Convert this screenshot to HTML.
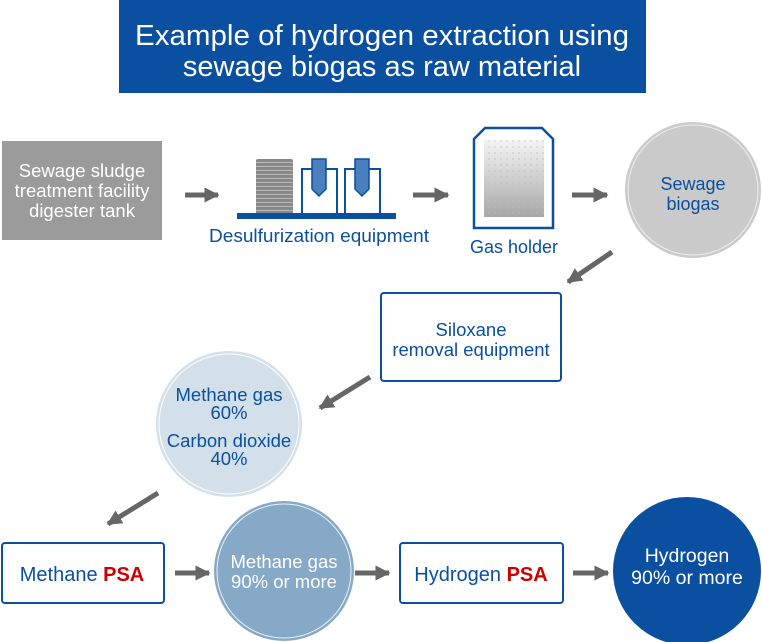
<!DOCTYPE html>
<html><head><meta charset="utf-8"><style>
html,body{margin:0;padding:0;background:#fff;width:762px;height:642px;overflow:hidden}
svg text{font-family:"Liberation Sans","DejaVu Sans",sans-serif}
</style></head><body>
<svg width="762" height="642" viewBox="0 0 762 642" xmlns="http://www.w3.org/2000/svg">
<defs>
<marker id="ah" viewBox="0 0 10 10" refX="9" refY="5" markerWidth="3" markerHeight="3" orient="auto"><path d="M0,0 L10,5 L0,10 z" fill="#666"/></marker>
<linearGradient id="gh" x1="0" y1="0" x2="0" y2="1"><stop offset="0" stop-color="#f4f4f4"/><stop offset="1" stop-color="#a8a8a8"/></linearGradient>
<pattern id="dots" width="6" height="6" patternUnits="userSpaceOnUse"><circle cx="3" cy="3" r="0.9" fill="#bbb"/></pattern>
<pattern id="stripes" width="4" height="4" patternUnits="userSpaceOnUse"><rect width="36" height="4" fill="#888"/><rect y="2" width="36" height="1" fill="#bbb"/></pattern>
</defs>
<rect x="119" y="0" width="527" height="93" fill="#0a4fa0"/>
<text x="382" y="45" font-size="29" fill="#fff" text-anchor="middle" textLength="494" lengthAdjust="spacingAndGlyphs">Example of hydrogen extraction using</text>
<text x="382" y="76" font-size="29" fill="#fff" text-anchor="middle">sewage biogas as raw material</text>

<rect x="2" y="141" width="160" height="99" fill="#9b9b9b"/>
<g font-size="18.5" fill="#fff" text-anchor="middle">
<text x="82" y="177">Sewage sludge</text><text x="82" y="197">treatment facility</text><text x="82" y="217">digester tank</text></g>

<g stroke="#666" stroke-width="5" fill="none" marker-end="url(#ah)">
<line x1="185" y1="195" x2="218" y2="195"/>
<line x1="413" y1="195" x2="448" y2="195"/>
<line x1="572" y1="195" x2="607" y2="195"/>
<line x1="612" y1="252" x2="568" y2="282"/>
<line x1="370" y1="377" x2="320" y2="408"/>
<line x1="158" y1="493" x2="108" y2="524"/>
<line x1="175" y1="573" x2="209" y2="573"/>
<line x1="355" y1="573" x2="389" y2="573"/>
<line x1="573" y1="573" x2="608" y2="573"/>
</g>

<rect x="256" y="159" width="37" height="55" rx="2" fill="url(#stripes)"/>
<rect x="302" y="169" width="35" height="45" fill="#fff" stroke="#0a4fa0" stroke-width="2"/>
<rect x="345" y="169" width="35" height="45" fill="#fff" stroke="#0a4fa0" stroke-width="2"/>
<path d="M312,159 h14 v30 l-7,7 l-7,-7 z" fill="#4a7fc0" stroke="#0a4fa0" stroke-width="1.5"/>
<path d="M355,159 h14 v30 l-7,7 l-7,-7 z" fill="#4a7fc0" stroke="#0a4fa0" stroke-width="1.5"/>
<rect x="237" y="213" width="159" height="6" fill="#0a4fa0"/>
<text x="319" y="242" font-size="18" fill="#0a4fa0" text-anchor="middle" textLength="220" lengthAdjust="spacingAndGlyphs">Desulfurization equipment</text>

<path d="M474,139 L485,128 L542,128 L553,139 L553,228 L474,228 Z" fill="#fff" stroke="#0a4fa0" stroke-width="2.5"/>
<rect x="484" y="140" width="60" height="77" fill="url(#gh)"/>
<rect x="484" y="140" width="60" height="77" fill="url(#dots)" opacity="0.6"/>
<text x="514" y="253" font-size="18" fill="#0a4fa0" text-anchor="middle">Gas holder</text>

<circle cx="693" cy="190" r="68" fill="#cacaca"/>
<circle cx="693" cy="190" r="65" fill="none" stroke="#eee" stroke-width="1"/>
<text x="693" y="190" font-size="18" fill="#0a4fa0" text-anchor="middle">Sewage</text>
<text x="693" y="210" font-size="18" fill="#0a4fa0" text-anchor="middle">biogas</text>

<rect x="381" y="293" width="180" height="88" rx="3" fill="#fff" stroke="#0a4fa0" stroke-width="2"/>
<text x="471" y="336" font-size="18.5" fill="#0a4fa0" text-anchor="middle">Siloxane</text>
<text x="471" y="356" font-size="18.5" fill="#0a4fa0" text-anchor="middle">removal equipment</text>

<circle cx="229" cy="424" r="73" fill="#d3e0ea"/>
<circle cx="229" cy="424" r="70" fill="none" stroke="#fff" stroke-width="1"/>
<g font-size="18.5" fill="#0a4fa0" text-anchor="middle">
<text x="229" y="401">Methane gas</text><text x="229" y="419">60%</text>
<text x="229" y="447">Carbon dioxide</text><text x="229" y="465">40%</text></g>

<rect x="2" y="543" width="162" height="60" rx="3" fill="#fff" stroke="#0a4fa0" stroke-width="2"/>
<text x="82" y="581" font-size="20" fill="#0a4fa0" text-anchor="middle">Methane <tspan fill="#c00" font-weight="bold">PSA</tspan></text>

<circle cx="284" cy="571" r="70" fill="#86a9c8"/>
<circle cx="284" cy="571" r="67" fill="none" stroke="#e8f0f6" stroke-width="1"/>
<text x="284" y="568" font-size="18.5" fill="#fff" text-anchor="middle">Methane gas</text>
<text x="284" y="588" font-size="18.5" fill="#fff" text-anchor="middle">90% or more</text>

<rect x="400" y="543" width="163" height="60" rx="3" fill="#fff" stroke="#0a4fa0" stroke-width="2"/>
<text x="481" y="581" font-size="20" fill="#0a4fa0" text-anchor="middle">Hydrogen <tspan fill="#c00" font-weight="bold">PSA</tspan></text>

<circle cx="687" cy="571" r="74" fill="#0a4fa0"/>
<text x="687" y="562" font-size="19.5" fill="#fff" text-anchor="middle">Hydrogen</text>
<text x="687" y="584" font-size="19.5" fill="#fff" text-anchor="middle">90% or more</text>
</svg>
</body></html>
